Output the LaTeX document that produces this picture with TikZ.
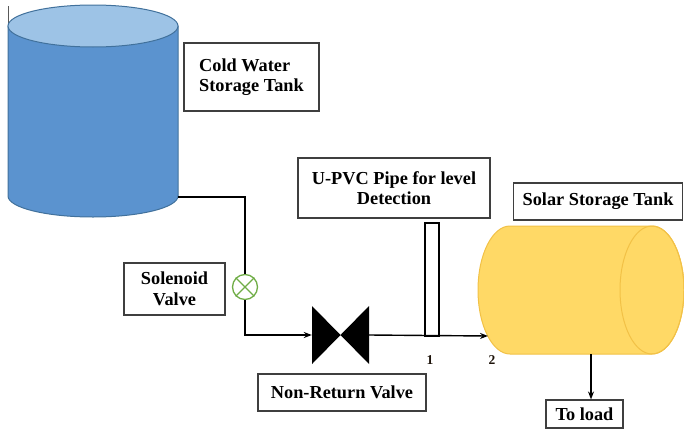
\documentclass[tikz,border=0pt]{standalone}
\usepackage{fontspec}
\setmainfont{Liberation Serif}
\usetikzlibrary{arrows.meta}
\definecolor{tankblue}{HTML}{5B93CF}
\definecolor{tanktop}{HTML}{9DC3E6}
\definecolor{tankedge}{HTML}{41719C}
\definecolor{solarfill}{HTML}{FFD966}
\definecolor{solaredge}{HTML}{F2C146}
\definecolor{valvegreen}{HTML}{70AD47}
\definecolor{boxedge}{HTML}{3F3F3F}
\begin{document}
\begin{tikzpicture}[x=1pt,y=1pt,
  labelbox/.style={draw=boxedge, line width=1.1pt, fill=white, inner sep=0pt,
    font=\bfseries\fontsize{18.3}{20.5}\selectfont, align=center},
  pipe/.style={line width=1.4pt, black},
  flow/.style={pipe, -{Stealth[length=8pt,width=6pt]}},
  numlabel/.style={font=\bfseries\fontsize{13.5}{14}\selectfont, text=black!85!brown}
]
\useasboundingbox (0,0) rectangle (684,-431);

% cold water storage tank (vertical cylinder)
\draw[gray!70!black, line width=0.8pt] (8,-6) -- (8,-25);
\filldraw[fill=tankblue, draw=tankedge, line width=1pt]
  (8,-26) -- (8,-196) arc[start angle=180, end angle=360, x radius=85, y radius=21]
  -- (178,-26) -- cycle;
\filldraw[fill=tanktop, draw=tankedge, line width=1pt]
  (93,-26) ellipse[x radius=85, y radius=21];
\coordinate (cwout) at (178,-197);

% solar storage tank (horizontal cylinder)
\filldraw[fill=solarfill, draw=solaredge, line width=1pt]
  (510,-226) -- (652,-226) arc[start angle=90, end angle=-90, x radius=32, y radius=64]
  -- (510,-354) arc[start angle=270, end angle=90, x radius=32, y radius=64] -- cycle;
\draw[solaredge, line width=1pt] (652,-290) ellipse[x radius=32, y radius=64];
\coordinate (solarin) at (488,-336);
\coordinate (solarout) at (591,-354);

% solenoid valve
\node[circle, draw=valvegreen, line width=1.3pt, minimum size=25pt, inner sep=0pt]
  (sol) at (245,-287) {};
\draw[valvegreen, line width=1.3pt] (sol.45) -- (sol.225) (sol.135) -- (sol.315);

% non-return valve (bowtie symbol)
\node[minimum width=57pt, minimum height=58pt, inner sep=0pt,
  path picture={\fill[black] (path picture bounding box.north west)
    -- (path picture bounding box.south east)
    -- (path picture bounding box.north east)
    -- (path picture bounding box.south west) -- cycle;}]
  (nrv) at (340.5,-335) {};

% U-PVC level pipe
\node[draw=black, line width=1.1pt, fill=white, minimum width=14pt,
  minimum height=113pt, inner sep=0pt] (upvc) at (432,-279.5) {};

% labels
\node[labelbox, minimum width=135pt, minimum height=68pt, align=left] (lblcold)
  at (251.5,-77) {Cold Water\\Storage Tank};
\node[labelbox, minimum width=101pt, minimum height=52pt] (lblsol)
  at (174.5,-289) {Solenoid\\Valve};
\node[labelbox, minimum width=168pt, minimum height=37pt] (lblnrv)
  at (342,-392.5) {Non-Return Valve};
\node[labelbox, minimum width=192pt, minimum height=60pt] (lblupvc)
  at (394,-188) {U-PVC Pipe for level\\Detection};
\node[labelbox, minimum width=169pt, minimum height=37pt] (lblsolar)
  at (598,-201.5) {Solar Storage Tank};
\node[labelbox, minimum width=77pt, minimum height=28pt] (lblload)
  at (584.5,-414) {To load};

\node[numlabel] (n1) at (430,-360) {1};
\node[numlabel] (n2) at (492,-360) {2};

% piping
\draw[pipe] (cwout) -| (sol.north);
\draw[flow] (sol.south) |- (nrv.west);
\draw[flow] (nrv.east) -- (solarin);
\draw[flow] (solarout) -- (solarout |- lblload.north);
\end{tikzpicture}
\end{document}
